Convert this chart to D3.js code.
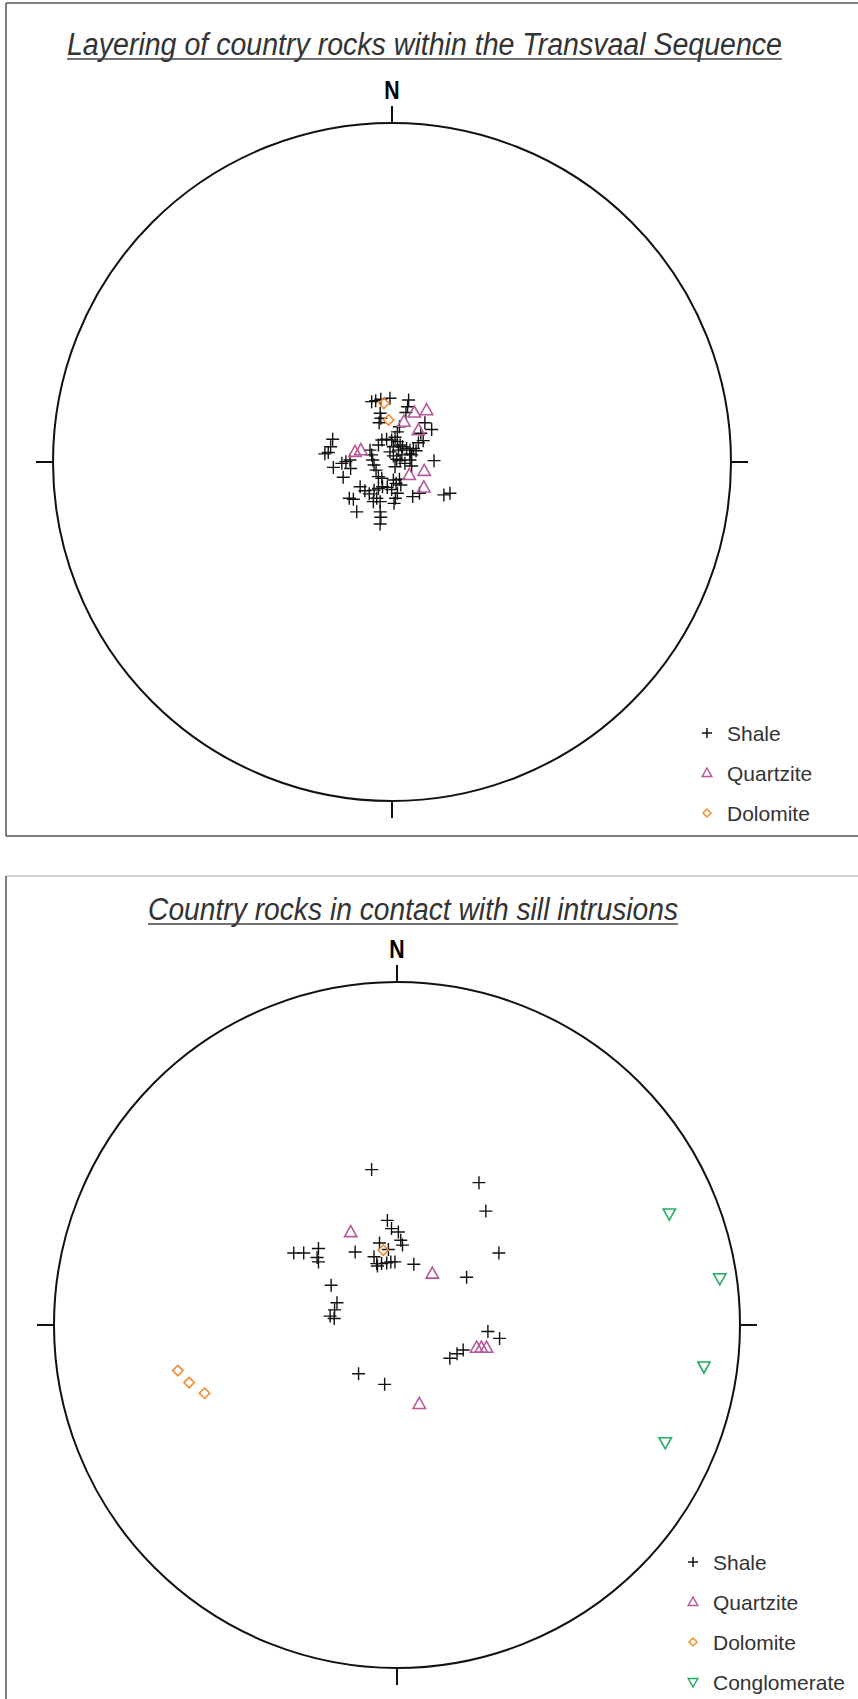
<!DOCTYPE html>
<html>
<head>
<meta charset="utf-8">
<script src="https://cdn.jsdelivr.net/npm/d3@7"></script>
<style>
  body { margin: 0; background: #fff; }
  text { font-family: "Liberation Sans", Arial, sans-serif; }
</style>
</head>
<body>
<script>
// pole positions, projected onto the net, in % of the primitive radius (E +, N +)
var top_shale = [
  [-6.0,17.8],[-4.8,18.1],[-3.3,18.5],[-0.6,18.8],[4.9,18.3],[4.6,16.3],[4.1,14.6],
  [-3.5,14.4],[-3.3,12.9],[-3.8,11.6],[2.2,10.4],[1.6,8.9],[9.7,11.6],[11.7,9.6],[8.5,8.5],
  [-3.0,6.5],[-1.6,6.7],[-0.1,6.5],[0.9,7.3],[1.6,6.0],[2.4,5.0],[3.1,4.5],[4.3,4.0],
  [5.3,3.5],[6.3,4.0],[5.8,2.1],[0.4,4.5],[-0.6,3.0],[0.4,1.8],[1.4,0.8],[2.4,0.4],
  [3.8,-0.4],[5.3,0.6],[5.8,-1.2],[9.2,6.3],[7.8,5.7],[-4.0,5.0],[-17.5,6.7],[-18.1,4.5],
  [-18.8,2.8],[-19.8,2.4],[-17.3,-1.6],[-14.8,-0.4],[-13.6,0.1],[-12.4,0.6],[-12.2,-1.9],
  [-14.4,-4.5],[-6.0,2.1],[-5.7,0.6],[-5.3,-0.9],[-4.7,-2.4],[-4.0,-4.3],[-3.0,-4.8],
  [12.4,0.4],[-9.4,-7.3],[-8.0,-8.5],[-6.7,-9.4],[-5.3,-8.3],[-4.0,-7.8],[-2.8,-7.3],
  [-1.4,-7.5],[-0.1,-8.1],[1.2,-6.3],[2.2,-5.1],[2.6,-6.8],[1.6,-9.2],[1.0,-10.7],
  [0.6,-12.2],[-4.5,-10.7],[-3.5,-11.7],[-5.5,-11.7],[-12.6,-10.7],[-11.4,-11.0],
  [-10.4,-14.7],[-3.5,-14.7],[-3.3,-16.3],[-3.5,-18.3],[6.1,-10.2],[8.1,-9.2],
  [15.3,-9.7],[17.1,-9.2],[7.1,3.3],[5.3,2.4],[1.9,3.5],[2.9,2.1],[-6.5,3.5],
  [0.4,-5.3],[0.9,-1.4]
];
var top_quartzite = [[6.6,14.6],[10.2,15.3],[3.5,11.9],[7.8,9.4],[-10.9,3.0],[-9.2,3.5],
  [9.5,-2.6],[5.1,-3.8],[9.4,-7.5]];
var top_dolomite = [[-2.4,17.3],[-1.0,12.4]];

var bot_shale = [
  [-7.4,45.3],[23.9,41.5],[25.9,33.2],[29.7,21.0],[20.3,13.9],[4.9,17.7],[-2.8,30.5],
  [-1.6,28.1],[0.4,27.1],[1.1,24.7],[1.6,23.3],[-5.1,23.9],[-2.5,22.0],[-6.7,19.9],
  [-5.9,17.9],[-4.5,17.9],[-3.0,18.1],[-1.8,18.4],[-0.6,18.4],[-5.7,17.2],[-12.2,21.3],
  [-30.1,21.0],[-27.2,21.0],[-22.9,22.3],[-23.3,19.7],[-22.9,18.4],[-19.2,11.6],
  [-17.5,6.5],[-18.2,4.4],[-19.5,2.6],[-18.3,1.9],[26.5,-1.9],[29.9,-3.9],[19.3,-7.3],
  [17.5,-8.4],[15.4,-9.7],[-11.2,-14.2],[-3.6,-17.3]
];
var bot_quartzite = [[-13.5,27.1],[10.3,15.0],[23.2,-6.6],[24.6,-6.6],[26.1,-6.6],[6.5,-23.0]];
var bot_dolomite = [[-4.0,21.8],[-63.9,-13.3],[-60.6,-16.8],[-56.1,-19.9]];
var bot_conglomerate = [[79.4,32.5],[94.1,13.6],[89.5,-12.1],[78.2,-34.2]];

var legend_top = ["Shale", "Quartzite", "Dolomite"];
var legend_bot = ["Shale", "Quartzite", "Dolomite", "Conglomerate"];

var colors = {Shale: "#111", Quartzite: "#b8579b", Dolomite: "#f28a2e", Conglomerate: "#25ad63"};

function shapePath(kind, s) {
  if (kind == "Shale") return "M" + (-s) + ",0H" + s + "M0," + (-s) + "V" + s;
  if (kind == "Quartzite") return "M0," + (-s) + "L" + (s * 0.95) + "," + (s * 0.7) + "L" + (-s * 0.95) + "," + (s * 0.7) + "Z";
  if (kind == "Dolomite") return "M0," + (-s * 0.8) + "L" + (s * 0.8) + ",0L0," + (s * 0.8) + "L" + (-s * 0.8) + ",0Z";
  return "M0," + s + "L" + (s * 0.95) + "," + (-s * 0.7) + "L" + (-s * 0.95) + "," + (-s * 0.7) + "Z";
}

var svg = d3.select("body").append("svg")
  .attr("width", 858)
  .attr("height", 1699);

function panel(opt) {
  var g = svg.append("g");
  var cx = opt.cx, cy = opt.cy, r = opt.r;

  // frame
  g.append("line").attr("x1", 6).attr("x2", 870).attr("y1", opt.top).attr("y2", opt.top)
    .attr("stroke", opt.topColor).attr("stroke-width", 1.5);
  g.append("line").attr("x1", 6).attr("x2", 6).attr("y1", opt.top).attr("y2", opt.bottom)
    .attr("stroke", "#555").attr("stroke-width", 1.5);
  if (opt.bottom < 1699) {
    g.append("line").attr("x1", 6).attr("x2", 870).attr("y1", opt.bottom).attr("y2", opt.bottom)
      .attr("stroke", "#555").attr("stroke-width", 1.5);
  }

  // title
  g.append("text")
    .attr("x", opt.tx1).attr("y", opt.ty)
    .attr("textLength", opt.tx2 - opt.tx1)
    .attr("lengthAdjust", "spacingAndGlyphs")
    .attr("font-family", "'Liberation Sans Narrow', 'Arial Narrow', 'Liberation Sans', sans-serif")
    .attr("font-size", "31px")
    .attr("font-style", "italic")
    .attr("fill", "#333")
    .text(opt.title);
  g.append("line")
    .attr("x1", opt.tx1).attr("x2", opt.tx2)
    .attr("y1", opt.ty + 4).attr("y2", opt.ty + 4)
    .attr("stroke", "#444").attr("stroke-width", 1.5);

  var x = d3.scaleLinear().domain([-100, 100]).range([cx - r, cx + r]);
  var y = d3.scaleLinear().domain([-100, 100]).range([cy + r, cy - r]);

  // net
  g.append("circle").attr("cx", x(0)).attr("cy", y(0)).attr("r", r)
    .attr("fill", "none").attr("stroke", "#111").attr("stroke-width", 2);
  var ticks = [[0, 100, 0, -1], [100, 0, 1, 0], [0, -100, 0, 1], [-100, 0, -1, 0]];
  g.selectAll(".tick").data(ticks).enter().append("line")
    .attr("x1", (d) => x(d[0])).attr("y1", (d) => y(d[1]))
    .attr("x2", (d) => x(d[0]) + d[2] * 17).attr("y2", (d) => y(d[1]) + d[3] * 17)
    .attr("stroke", "#111").attr("stroke-width", 2);
  g.append("text")
    .attr("x", x(0)).attr("y", y(100) - 24)
    .attr("text-anchor", "middle")
    .attr("font-size", "25px")
    .attr("font-weight", "bold")
    .attr("transform", "translate(" + x(0) + ",0) scale(0.85,1) translate(" + (-x(0)) + ",0)")
    .text("N");

  // poles
  opt.series.forEach((s) => {
    g.selectAll(null).data(s.data).enter().append("path")
      .attr("d", shapePath(s.name, 6.5))
      .attr("transform", (d) => "translate(" + x(d[0]) + "," + y(d[1]) + ")")
      .attr("fill", "none")
      .attr("stroke", colors[s.name])
      .attr("stroke-width", s.name == "Shale" ? 1.4 : 1.6);
  });

  // legend
  var lg = g.append("g").attr("transform", "translate(" + opt.lx + "," + opt.ly + ")");
  opt.legend.forEach((name, i) => {
    lg.append("path")
      .attr("d", shapePath(name, 5))
      .attr("transform", "translate(0," + (i * 40) + ")")
      .attr("fill", "none").attr("stroke", colors[name]).attr("stroke-width", 1.5);
    lg.append("text")
      .attr("x", 20).attr("y", i * 40 + 7.5)
      .attr("font-size", "21px").attr("fill", "#333")
      .text(name);
  });
}

panel({
  top: 3, bottom: 836, topColor: "#555",
  title: "Layering of country rocks within the Transvaal Sequence",
  tx1: 67, tx2: 782, ty: 55,
  cx: 392, cy: 462, r: 339,
  series: [
    {name: "Shale", data: top_shale},
    {name: "Quartzite", data: top_quartzite},
    {name: "Dolomite", data: top_dolomite}
  ],
  legend: legend_top, lx: 707, ly: 733
});

panel({
  top: 876, bottom: 1720, topColor: "#c4c4c4",
  title: "Country rocks in contact with sill intrusions",
  tx1: 148, tx2: 678, ty: 920,
  cx: 397, cy: 1325, r: 343,
  series: [
    {name: "Shale", data: bot_shale},
    {name: "Quartzite", data: bot_quartzite},
    {name: "Dolomite", data: bot_dolomite},
    {name: "Conglomerate", data: bot_conglomerate}
  ],
  legend: legend_bot, lx: 693, ly: 1562
});
</script>
</body>
</html>
